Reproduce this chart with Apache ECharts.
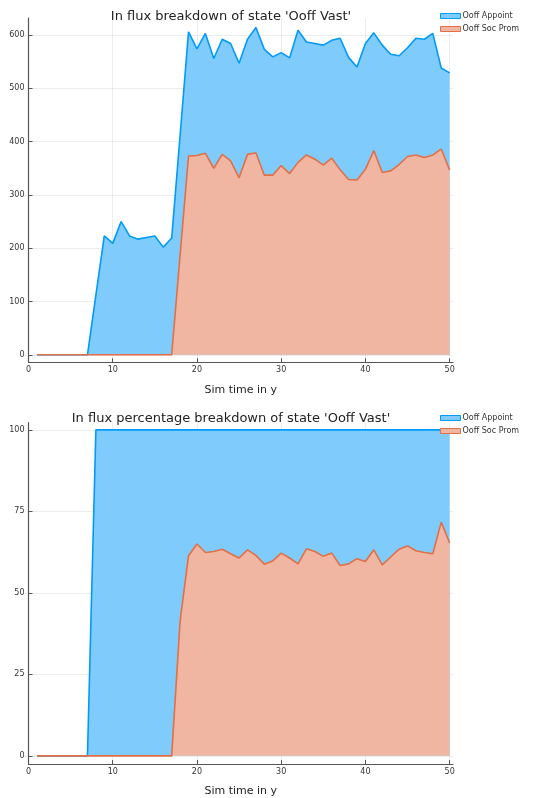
<!DOCTYPE html>
<html>
<head>
<meta charset="utf-8">
<script src="https://cdn.jsdelivr.net/npm/echarts@6/dist/echarts.min.js"></script>
<style>
html, body { margin: 0; padding: 0; background: #fff; }
#main { width: 546px; height: 798px; }
</style>
</head>
<body>
<div id="main"></div>
<script>
// sim time (years)
var years = [1,2,3,4,5,6,7,8,9,10,11,12,13,14,15,16,17,18,19,20,21,22,23,24,25,
             26,27,28,29,30,31,32,33,34,35,36,37,38,39,40,41,42,43,44,45,46,47,48,49,50];

// top chart: total in flux (Ooff Appoint area top) and Ooff Soc Prom
var fluxTotal = [0,0,0,0,0,0,0,112,223,209,250,223,217,220,223,202,219,412,606,574,
                 603,556,592,584,547,592,614,573,559,567,557,609,587,584,581,590,594,558,540,584,
                 604,581,564,561,576,594,592,603,538,529];
var fluxSocProm = [0,0,0,0,0,0,0,0,0,0,0,0,0,0,0,0,0,187,373,374,
                   378,350,376,364,332,376,379,337,337,355,340,361,375,367,356,369,347,329,328,348,
                   383,342,345,357,372,375,370,375,386,347];

// bottom chart: percentages
var pctTotal = [0,0,0,0,0,0,0,100,100,100,100,100,100,100,100,100,100,100,100,100,
                100,100,100,100,100,100,100,100,100,100,100,100,100,100,100,100,100,100,100,100,
                100,100,100,100,100,100,100,100,100,100];
var pctSocProm = [0,0,0,0,0,0,0,0,0,0,0,0,0,0,0,0,0,41.3,61.4,65.0,
                  62.4,62.7,63.4,62.0,60.7,63.2,61.5,58.8,59.8,62.2,60.7,58.9,63.5,62.7,61.2,62.2,58.4,58.9,60.5,59.6,
                  63.2,58.6,61.0,63.4,64.4,62.9,62.4,62.0,71.7,65.3];

var xTicks = [0, 10, 20, 30, 40, 50];
var yTicksTop = [0, 100, 200, 300, 400, 500, 600];
var yTicksBottom = [0, 25, 50, 75, 100];

var seriesNames = ['Ooff Appoint', 'Ooff Soc Prom'];
var lineColors = ['#009AFA', '#E26F46'];
var fillColors = ['#7FCCFC', '#F0B6A1'];

var fontFam = '"DejaVu Sans", sans-serif';
var axisCol = '#555';

function pairs(xs, ys) {
    var out = [];
    for (var i = 0; i < xs.length; i++) {
        out.push([xs[i], ys[i]]);
    }
    return out;
}

function makeX(idx) {
    return {
        type: 'value', gridIndex: idx, min: 0, max: 50.4,
        name: 'Sim time in y', nameLocation: 'middle', nameGap: 22,
        nameTextStyle: { fontFamily: fontFam, fontSize: 11, color: '#222' },
        axisLine: { onZero: false, lineStyle: { color: axisCol, width: 1.2 } },
        axisTick: { inside: true, length: 4, customValues: xTicks, lineStyle: { color: axisCol } },
        axisLabel: { customValues: xTicks, fontFamily: fontFam, fontSize: 8, color: '#333', margin: 4 },
        splitLine: { show: true, lineStyle: { color: 'rgba(0,0,0,0.07)', width: 1 } }
    };
}

function makeY(idx, mn, mx, ticks) {
    return {
        type: 'value', gridIndex: idx, min: mn, max: mx,
        axisLine: { show: true, onZero: false, lineStyle: { color: axisCol, width: 1.2 } },
        axisTick: { show: true, inside: true, length: 4, customValues: ticks, lineStyle: { color: axisCol } },
        axisLabel: { customValues: ticks, fontFamily: fontFam, fontSize: 8, color: '#333', margin: 4 },
        splitLine: { show: true, lineStyle: { color: 'rgba(0,0,0,0.07)', width: 1 } }
    };
}

function makeSeries(name, k, idx, data) {
    return {
        name: name, type: 'line', xAxisIndex: idx, yAxisIndex: idx,
        data: data, symbol: 'none', animation: false,
        lineStyle: { color: lineColors[k], width: 1.6 },
        itemStyle: { color: lineColors[k] },
        areaStyle: { color: fillColors[k], opacity: 1 }
    };
}

function makeLegend(top) {
    return {
        left: 440, top: top, orient: 'vertical', itemGap: 5, padding: 0,
        itemWidth: 20, itemHeight: 5, icon: 'rect',
        textStyle: { fontFamily: fontFam, fontSize: 8, color: '#333', padding: [0, 0, 0, -3] },
        data: [
            { name: seriesNames[0], itemStyle: { color: fillColors[0], borderColor: lineColors[0], borderWidth: 1 } },
            { name: seriesNames[1], itemStyle: { color: fillColors[1], borderColor: lineColors[1], borderWidth: 1 } }
        ],
        selectedMode: false
    };
}

var option = {
    backgroundColor: '#fff',
    animation: false,
    title: [
        { text: "In flux breakdown of state 'Ooff Vast'", left: 226, top: 5, textAlign: 'center',
          textStyle: { fontFamily: fontFam, fontSize: 13, fontWeight: 'normal', color: '#222' } },
        { text: "In flux percentage breakdown of state 'Ooff Vast'", left: 226, top: 407, textAlign: 'center',
          textStyle: { fontFamily: fontFam, fontSize: 13, fontWeight: 'normal', color: '#222' } }
    ],
    legend: [makeLegend(12), makeLegend(414)],
    grid: [
        { left: 28.5, right: 93, top: 18, bottom: 435.7 },
        { left: 28.5, right: 93, top: 422.7, bottom: 33 }
    ],
    xAxis: [makeX(0), makeX(1)],
    yAxis: [makeY(0, -14.1, 631.9, yTicksTop), makeY(1, -2.5, 102.2, yTicksBottom)],
    series: [
        makeSeries(seriesNames[0], 0, 0, pairs(years, fluxTotal)),
        makeSeries(seriesNames[1], 1, 0, pairs(years, fluxSocProm)),
        makeSeries(seriesNames[0], 0, 1, pairs(years, pctTotal)),
        makeSeries(seriesNames[1], 1, 1, pairs(years, pctSocProm))
    ]
};

var chart = echarts.init(document.getElementById('main'), null, { renderer: 'canvas' });
chart.setOption(option);
</script>
</body>
</html>
